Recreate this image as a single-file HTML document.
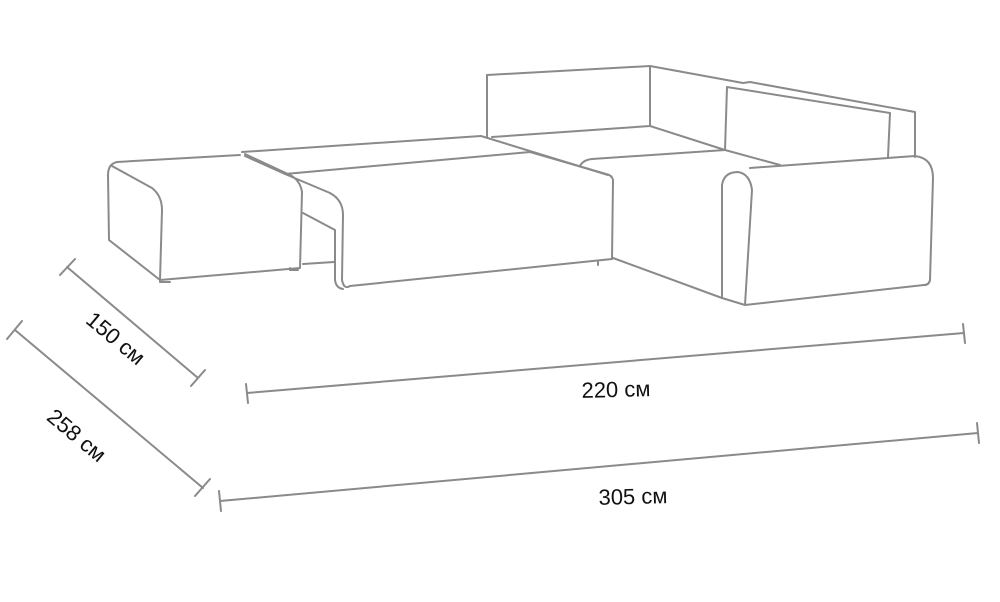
<!DOCTYPE html>
<html><head><meta charset="utf-8"><style>
html,body{margin:0;padding:0;background:#fff;}
svg{display:block;}
text{font-family:"Liberation Sans",sans-serif;font-size:22px;fill:#111;}
</style></head><body>
<svg width="1000" height="602" viewBox="0 0 1000 602">
<g fill="none" stroke="#8a8a8a" stroke-width="2" stroke-linejoin="round" stroke-linecap="round">
<path d="M240,155 L117,162 Q108,164 108,175 L109,240 L160,280 L300,268 L302,192 Q300,180 290,175 L245,154"/>
<path d="M112,166 L152,188 Q162,196 162,210 L160,280"/>
<path d="M160,280 l0,2 h10 M290,268 l0,2 h8"/>
<path d="M242,152 L481,136 L608,175"/>
<path d="M245,156 L285,174 L530,152"/>
<path d="M285,174 L330,193 Q343,200 343,215 L342,280 Q344,290 350,286 L612,259 L613,180 Q612,175 606,174 L530,152"/>
<path d="M303,213 L335,230 L335,280 Q336,288 343,289"/>
<path d="M303,264 L334,262"/>
<path d="M598,262 l0,3"/>
<path d="M487,137 L487,75 L650,66 L650,126 L492,137"/>
<path d="M650,66 L743,83 L750,82 L915,112 L915,157"/>
<path d="M727,87 L725,150 M727,87 L890,113 L888,157"/>
<path d="M650,126 L725,150 L780,165"/>
<path d="M580,166 Q583,160 592,159 L725,150"/>
<path d="M750,168 L915,156 Q933,158 933,178 L930,280 Q929,285 924,285 L745,305 L722,298 L722,185 Q724,172 738,172 Q750,174 752,190 L745,305"/>
<path d="M613,258 L722,298"/>
<path d="M67,267 L198,378 M60,275 L75,259 M191,386 L205,370"/>
<path d="M15,330 L203,488 M7,339 L22,321 M195,496 L210,479"/>
<path d="M247,393 L964,333 M246,384 L248,403 M963,324 L965,343"/>
<path d="M220,501 L978,433 M219,491 L221,511 M977,423 L979,443"/>
</g>
<text x="116" y="346" text-anchor="middle" transform="rotate(40 116 338)">150 см</text>
<text x="77" y="443" text-anchor="middle" transform="rotate(40 77 435)">258 см</text>
<text x="616" y="397" text-anchor="middle" transform="rotate(-1.5 616 390)">220 см</text>
<text x="633" y="504" text-anchor="middle" transform="rotate(-1.5 633 497)">305 см</text>
</svg>
</body></html>
